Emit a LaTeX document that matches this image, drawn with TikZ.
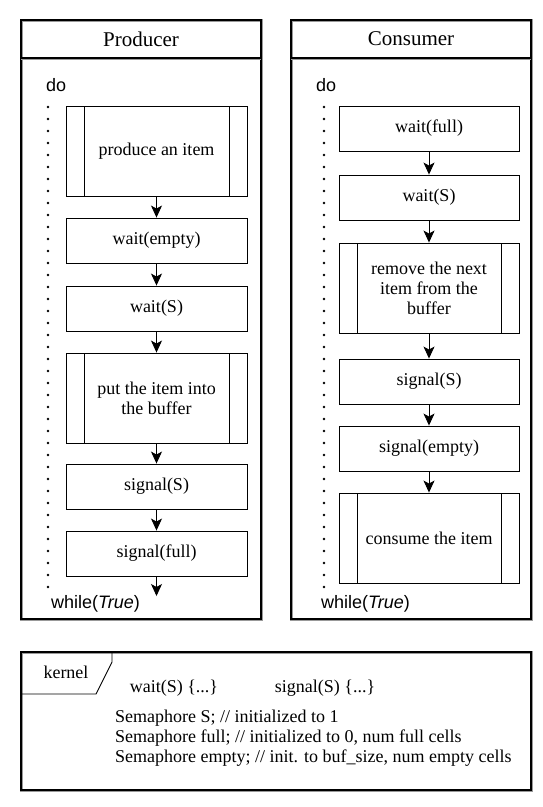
\documentclass[tikz,border=0pt]{standalone}
\usepackage{fontspec}
\setmainfont{Liberation Serif}
\setsansfont{Liberation Sans}
\usetikzlibrary{arrows.meta}
\tikzset{
  panel/.style={draw=black, line width=1.3pt, preaction={draw=black!40, line width=3pt}},
  stepbox/.style={draw=black, line width=0.9pt, minimum height=45pt, inner sep=0pt, align=center,
     font=\fontsize{18}{20}\selectfont},
  pbox/.style={stepbox, minimum width=181pt},
  cbox/.style={stepbox, minimum width=180pt},
  subproc/.style={minimum height=90pt, path picture={
     \draw[line width=0.9pt] ([xshift=18pt]path picture bounding box.north west) -- ([xshift=18pt]path picture bounding box.south west);
     \draw[line width=0.9pt] ([xshift=-18pt]path picture bounding box.north east) -- ([xshift=-18pt]path picture bounding box.south east);}},
  flow/.style={draw=black, line width=0.9pt, -{Stealth[length=12pt,width=11pt,inset=3pt]}},
  loopdots/.style={draw=black, line width=2.8pt, line cap=round, dash pattern=on 0pt off 12pt},
  kw/.style={font=\sffamily\fontsize{18}{20}\selectfont, inner sep=0pt, anchor=west},
  title/.style={font=\fontsize{21}{24}\selectfont, inner sep=0pt},
  ktext/.style={font=\fontsize{18}{20}\selectfont, inner sep=0pt}
}
\begin{document}
\begin{tikzpicture}[x=1pt,y=-1pt]
\useasboundingbox (0,0) rectangle (543,807);
% Producer panel
\draw[panel] (21,20) rectangle (261,619);
\draw[panel] (21,58) -- (261,58);
\node[title] (ptitle) at (141,39) {Producer};
\node[kw] (pdo) at (46,85) {do};
\node[kw] (pwhile) at (51,604) {while(\textit{True})};
\draw[loopdots] (48,107) -- (48,587);
\node[pbox,subproc] (p1) at (156.5,151) {produce an item};
\node[pbox] (p2) at (156.5,240.5) {wait(empty)};
\node[pbox] (p3) at (156.5,308.5) {wait(S)};
\node[pbox,subproc] (p4) at (156.5,398) {put the item into\\the buffer};
\node[pbox] (p5) at (156.5,486.5) {signal(S)};
\node[pbox] (p6) at (156.5,553.5) {signal(full)};
\coordinate (pend) at (156.5,596);
\draw[flow] (p1) -- (p2);
\draw[flow] (p2) -- (p3);
\draw[flow] (p3) -- (p4);
\draw[flow] (p4) -- (p5);
\draw[flow] (p5) -- (p6);
\draw[flow] (p6) -- (pend);
% Consumer panel
\draw[panel] (291,20) rectangle (531,619);
\draw[panel] (291,58) -- (531,58);
\node[title] (ctitle) at (411,39) {Consumer};
\node[kw] (cdo) at (316,85) {do};
\node[kw] (cwhile) at (321,604) {while(\textit{True})};
\draw[loopdots] (324,107) -- (324,587);
\node[cbox] (c1) at (429,128.5) {wait(full)};
\node[cbox] (c2) at (429,197.5) {wait(S)};
\node[cbox,subproc] (c3) at (429,288) {remove the next\\item from the\\buffer};
\node[cbox] (c4) at (429,381.5) {signal(S)};
\node[cbox] (c5) at (429,448.5) {signal(empty)};
\node[cbox,subproc] (c6) at (429,538) {consume the item};
\draw[flow] (c1) -- (c2);
\draw[flow] (c2) -- (c3);
\draw[flow] (c3) -- (c4);
\draw[flow] (c4) -- (c5);
\draw[flow] (c5) -- (c6);
% Kernel
\draw[panel] (21,652) rectangle (531,790);
\draw[draw=black, line width=0.9pt] (21,694) -- (96,694) -- (112,662) -- (112,652);
\node[ktext] (klabel) at (66,672) {kernel};
\node[ktext] (kwait) at (174,688) {wait(S) \{...\}};
\node[ktext] (ksignal) at (325,688) {signal(S) \{...\}};
\node[ktext, anchor=west, align=left] (ksem) at (115,738) {Semaphore S; // initialized to 1\\Semaphore full; // initialized to 0, num full cells\\Semaphore empty; // init. to buf\_size, num empty cells};
\end{tikzpicture}
\end{document}
